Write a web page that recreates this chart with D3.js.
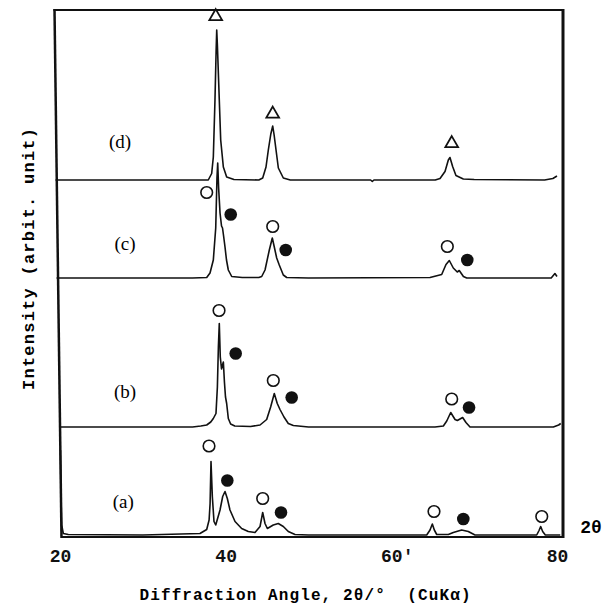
<!DOCTYPE html>
<html>
<head>
<meta charset="utf-8">
<script src="https://cdn.jsdelivr.net/npm/d3@7"></script>
<style>
    body { margin: 0; background: #fff; }
    .curve { fill: none; stroke: #111; stroke-width: 1.6; stroke-linejoin: round; }
    .frame { stroke: #111; }
    .tick text { font-family: "Liberation Mono", monospace; font-weight: bold; font-size: 18px; fill: #111; }
</style>
</head>
<body>
<svg id="chart" width="607" height="604"></svg>
<script>
// tick values along 2theta
var xTicks = [20, 40, 60, 80];
var xTickLabels = ["20", "40", "60'", "80"];

// patterns, bottom to top; offset = where each baseline sits (arbit. unit)
var patternNames = ["(a)", "(b)", "(c)", "(d)"];
var patternOffsets = [0.4, 22, 51.8, 71.4];

// [2theta, intensity above own baseline]
var patternA = [[20.05, 17], [20.12, 8], [20.2, 2], [20.4, 0.3], [21, 0.1], [30, 0], [36.9, 0.3], [37.71, 1.1],
    [38.0, 3], [38.12, 6.3], [38.23, 14.7], [38.39, 7.7], [38.59, 2.7], [38.8, 2], [39.32, 5], [39.64, 7.7],
    [39.92, 8.7], [40.2, 7.3], [40.52, 5], [41.13, 2.7], [41.93, 1.3], [42.73, 0.7], [43.54, 0.5], [44.15, 1.7],
    [44.47, 4.5], [44.75, 2.3], [45.03, 1.3], [45.75, 2], [46.35, 2.3], [46.96, 1.7], [47.56, 0.7], [48.37, 0.1],
    [50, 0], [64.27, 0], [64.67, 1], [64.95, 2.2], [65.19, 1], [65.48, 0.1], [66.88, 0.1], [67.48, 0.5],
    [68.49, 1], [69.29, 0.7], [70.1, 0], [77.55, 0], [77.83, 0.9], [78.03, 1.7], [78.27, 0.7], [78.59, 0], [80.4, 0]];

var patternB = [[19.88, 0], [36, 0], [37.0, 0.2], [37.71, 0.4], [38.2, 1], [38.51, 1.7], [38.83, 2.7], [39.0, 8],
    [39.12, 16], [39.23, 20.7], [39.35, 14], [39.5, 11.6], [39.72, 13], [39.85, 9], [39.98, 6], [40.12, 4.7],
    [40.32, 1.7], [40.6, 0.6], [41.1, 0.2], [43, 0.1], [44.15, 0.4], [44.95, 1.5], [45.43, 4], [45.87, 6.7],
    [46.23, 4.7], [46.56, 3.5], [47.04, 2], [47.56, 0.7], [48.17, 0.3], [50, 0], [65.27, 0], [66.28, 0.2],
    [66.69, 1.2], [67.17, 2.9], [67.69, 1.5], [67.97, 1.3], [68.61, 1.9], [69.01, 0.9], [69.5, 0], [79.56, 0],
    [80.2, 0.4], [80.45, 0.7]];

var patternC = [[19.58, 0], [36, 0], [37.71, 0.1], [38.11, 1], [38.51, 3.6], [38.8, 10], [38.95, 20], [39.04, 23],
    [39.15, 18], [39.32, 13], [39.5, 10.4], [39.62, 10], [39.75, 8.4], [39.92, 6.2], [40.1, 3.6], [40.32, 1.6],
    [40.73, 0.3], [42, 0.1], [44.0, 0.1], [44.35, 0.3], [44.75, 1.6], [45.27, 5.6], [45.63, 8], [45.87, 6.2],
    [46.16, 4], [46.47, 2.6], [46.96, 0.6], [47.37, 0.1], [50, 0], [64.67, 0.1], [66.08, 0.7], [66.6, 2.7],
    [67.0, 3.5], [67.48, 2], [67.96, 1.2], [68.2, 1.5], [68.7, 0.3], [69.1, 0], [79.3, 0], [79.75, 0.9], [80, 0.3]];

var patternD = [[19.46, 0], [30, 0], [37.9, 0], [38.31, 1.3], [38.51, 4.6], [38.71, 16], [38.85, 26], [38.92, 30],
    [39.0, 27], [39.23, 16], [39.4, 8], [39.72, 2.6], [40.12, 0.6], [41, 0.1], [44.0, 0], [44.47, 0.4],
    [44.87, 2.6], [45.15, 6], [45.45, 9.2], [45.68, 10.8], [45.85, 9], [46.08, 6], [46.36, 2.4], [46.96, 0.4],
    [47.8, 0], [57.5, 0], [57.7, -0.3], [57.9, 0], [65.3, 0], [65.88, 0.3], [66.48, 1.7], [66.88, 4],
    [67.08, 4.5], [67.4, 2.7], [67.8, 0.9], [68.69, 0.2], [70, 0.1], [78.5, 0], [79.5, 0.3], [80, 0.8]];

// phase markers [2theta, absolute level]
var triangles = [[38.8, 104.1], [45.68, 84.6], [67.29, 78.7]];
var openCircles = [[37.71, 68.9], [45.68, 62.1], [66.76, 58.1],
    [39.2, 45.3], [45.75, 31.3], [67.29, 27.6],
    [37.99, 18.2], [44.47, 7.7], [65.15, 5.1], [78.16, 4.1]];
var filledCircles = [[40.61, 64.5], [47.25, 57.4], [69.17, 55.4],
    [41.21, 36.7], [47.97, 27.9], [69.38, 25.9],
    [40.2, 11.3], [46.68, 4.9], [68.69, 3.6]];

// where the (a)..(d) captions go, in data units
var nameAt = [[27.64, 7.1], [27.85, 29.1], [27.85, 58.8], [27.24, 79.1]];

(function () {
    var patterns = [patternA, patternB, patternC, patternD];

    var svg = d3.select("#chart");

    var x = d3.scaleLinear().domain([20, 80]).range([60, 557]);
    var y = d3.scaleLinear().domain([0, 105.4]).range([537, 10]);

    // the scanned frame leans a little: left edge runs from 54.5 (top) to 61.5 (bottom)
    var leftTop = 54.5, leftBottom = 61.5, right = 563, top = 10, bottom = 537;

    // frame
    svg.append("line").attr("class", "frame").attr("x1", leftTop - 1).attr("x2", right)
        .attr("y1", top).attr("y2", top).attr("stroke-width", 2);
    svg.append("line").attr("class", "frame").attr("x1", right).attr("x2", right)
        .attr("y1", top - 1).attr("y2", bottom + 1).attr("stroke-width", 3);
    svg.append("line").attr("class", "frame").attr("x1", leftTop).attr("x2", leftBottom)
        .attr("y1", top - 1).attr("y2", bottom + 1).attr("stroke-width", 2.5);

    var xAxis = svg.append("g")
        .attr("transform", "translate(0," + bottom + ")")
        .call(d3.axisBottom(x)
            .tickValues(xTicks)
            .tickSize(0)
            .tickPadding(12)
            .tickFormat(function (d, i) { return xTickLabels[i]; }));
    xAxis.select(".domain").attr("d", "M" + leftBottom + ",0H" + right).attr("stroke", "#111").attr("stroke-width", 2);
    xAxis.selectAll(".tick text").attr("dx", function (d, i) { return i === 2 ? "0.3em" : 0; });

    // curves
    patterns.forEach(function (p, i) {
        var line = d3.line()
            .x(function (d) { return x(d[0]); })
            .y(function (d) { return y(d[1] + patternOffsets[i]); });
        svg.append("path").attr("class", "curve").attr("d", line(p));
    });

    // markers
    svg.selectAll(".open").data(openCircles).enter().append("circle")
        .attr("cx", function (d) { return x(d[0]); })
        .attr("cy", function (d) { return y(d[1]); })
        .attr("r", 5.8)
        .attr("fill", "#fff").attr("stroke", "#111").attr("stroke-width", 1.6);

    svg.selectAll(".filled").data(filledCircles).enter().append("circle")
        .attr("cx", function (d) { return x(d[0]); })
        .attr("cy", function (d) { return y(d[1]); })
        .attr("r", 6.3)
        .attr("fill", "#111");

    svg.selectAll(".tri").data(triangles).enter().append("path")
        .attr("d", d3.symbol().type(d3.symbolTriangle).size(70))
        .attr("transform", function (d) { return "translate(" + x(d[0]) + "," + y(d[1]) + ")"; })
        .attr("fill", "#fff").attr("stroke", "#111").attr("stroke-width", 1.8);

    // captions
    svg.selectAll(".name").data(patternNames).enter().append("text")
        .attr("x", function (d, i) { return x(nameAt[i][0]); })
        .attr("y", function (d, i) { return y(nameAt[i][1]); })
        .attr("dy", "0.35em")
        .attr("text-anchor", "middle")
        .style("font-family", "'Liberation Serif', serif")
        .style("font-size", "19px")
        .text(function (d) { return d; });

    svg.append("text")
        .attr("x", 591).attr("y", 527).attr("dy", "0.35em")
        .attr("text-anchor", "middle")
        .style("font-family", "'Liberation Mono', monospace")
        .style("font-weight", "bold").style("font-size", "18px")
        .text("2θ");

    svg.append("text")
        .attr("x", 305).attr("y", 600)
        .attr("text-anchor", "middle")
        .attr("textLength", 331).attr("lengthAdjust", "spacing")
        .style("font-family", "'Liberation Mono', monospace")
        .style("font-weight", "bold").style("font-size", "16px")
        .style("white-space", "pre")
        .text("Diffraction Angle, 2θ/°  (CuKα)");

    svg.append("text")
        .attr("transform", "translate(28,259) rotate(-90)")
        .attr("dy", "0.35em")
        .attr("text-anchor", "middle")
        .attr("textLength", 262).attr("lengthAdjust", "spacing")
        .style("font-family", "'Liberation Mono', monospace")
        .style("font-weight", "bold").style("font-size", "17px")
        .text("Intensity (arbit. unit)");
}());
</script>
</body>
</html>
